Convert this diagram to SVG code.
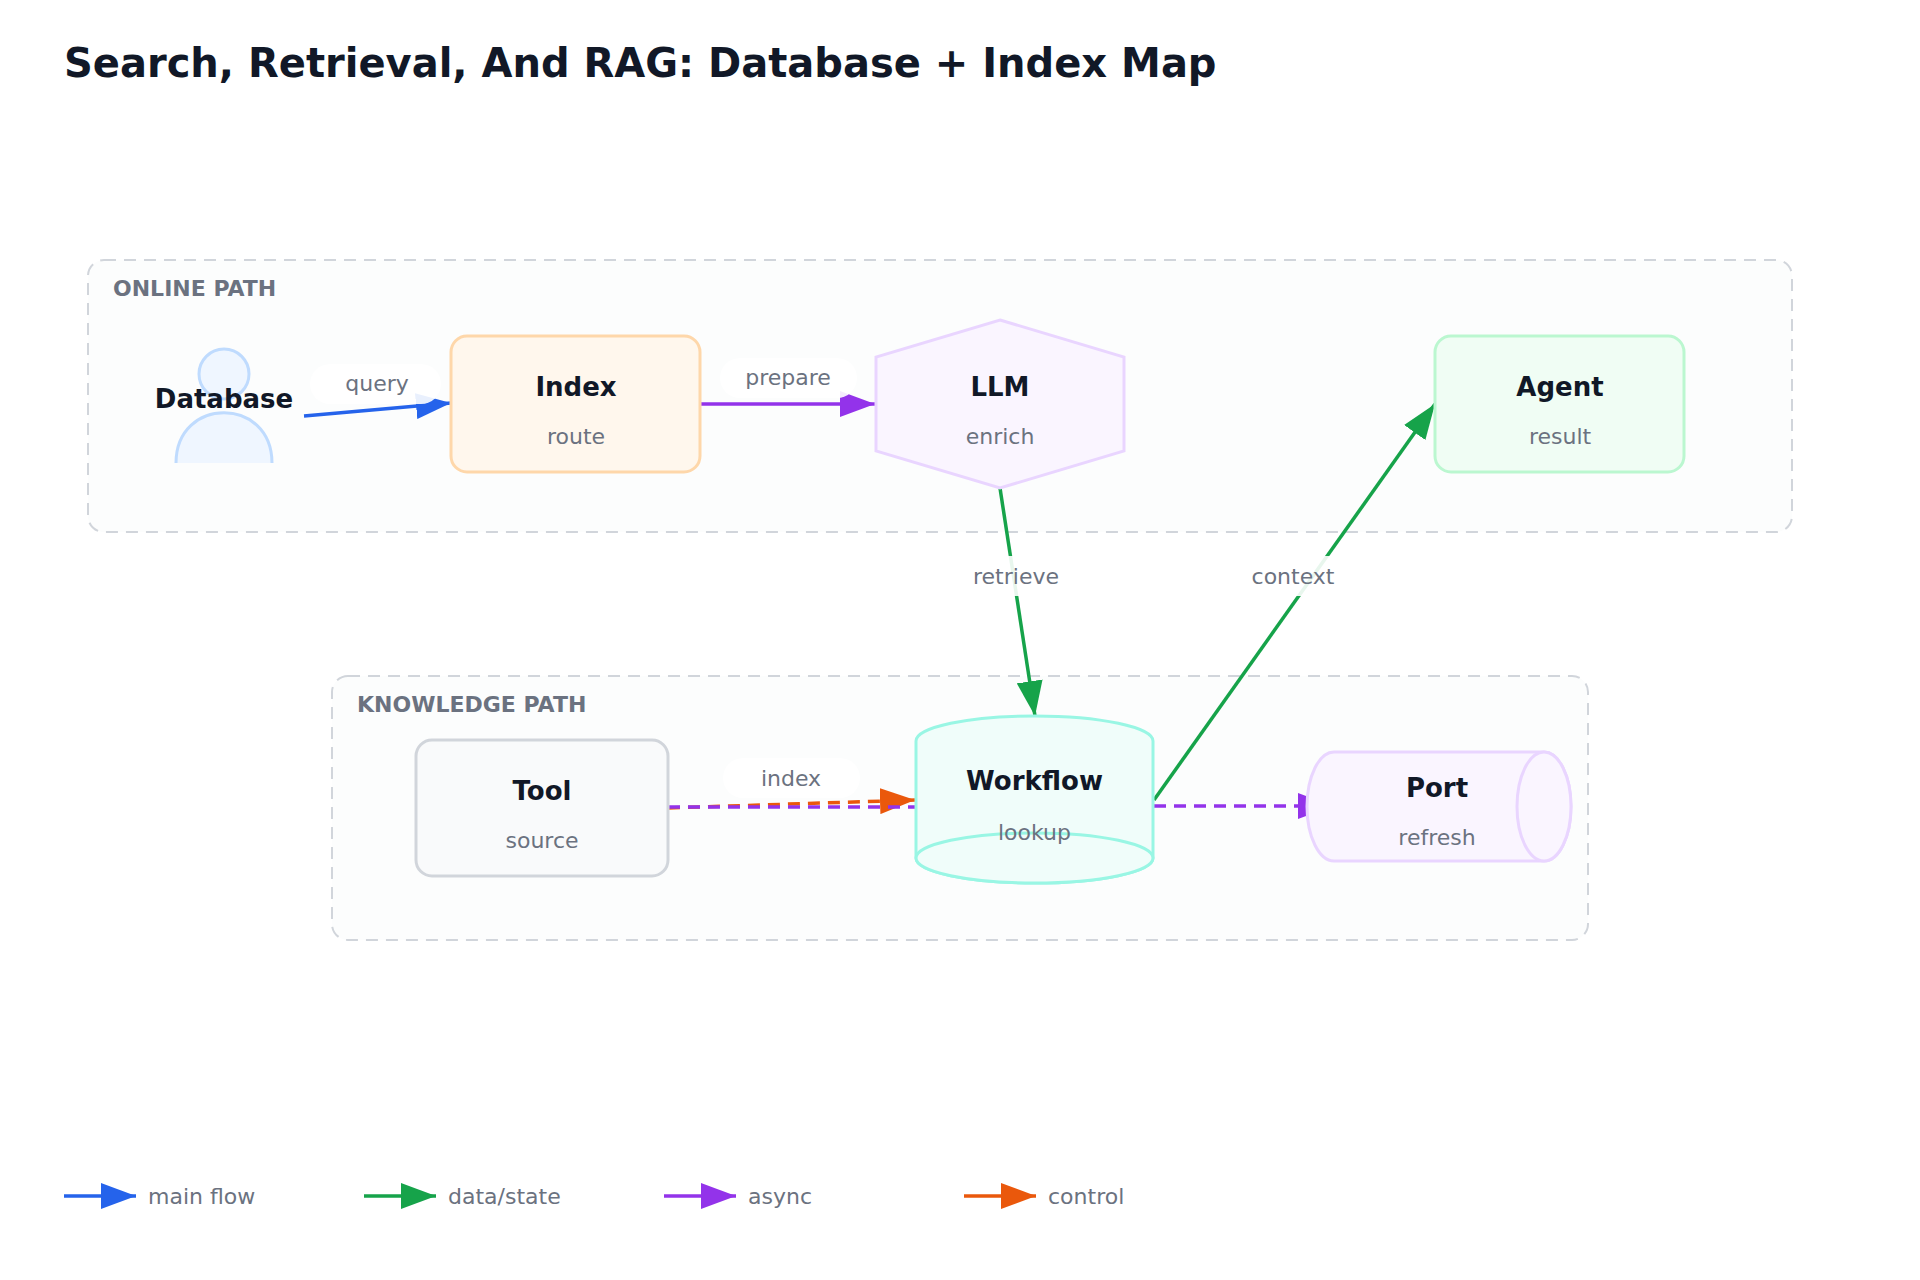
<svg xmlns="http://www.w3.org/2000/svg" width="1920" height="1280" viewBox="0 0 1920 1280">
<style>
text{font-family:"DejaVu Sans","Liberation Sans",sans-serif}
.title{font-size:40px;font-weight:bold;fill:#111827}
.sec{font-size:22px;font-weight:bold;fill:#6b7280}
.grp{fill:#fcfdfd;stroke:#d1d5db;stroke-width:2;stroke-dasharray:12 8}
.nt{font-size:26px;font-weight:bold;fill:#111827;text-anchor:middle}
.ns{font-size:22px;fill:#6b7280;text-anchor:middle}
.el{font-size:22px;fill:#6b7280;text-anchor:middle}
.pill{fill:#ffffff;fill-opacity:0.9}
.e{fill:none;stroke-width:3.5}
.dash{stroke-dasharray:12 8}
.lg{font-size:22px;fill:#6b7280}
</style>
<defs>
<marker id="mBlue" markerUnits="userSpaceOnUse" viewBox="0 0 35 26" markerWidth="35" markerHeight="26" refX="35" refY="13" orient="auto"><path d="M0,0 L35,13 L0,26 Z" fill="#2563eb"/></marker>
<marker id="mGreen" markerUnits="userSpaceOnUse" viewBox="0 0 35 26" markerWidth="35" markerHeight="26" refX="35" refY="13" orient="auto"><path d="M0,0 L35,13 L0,26 Z" fill="#16a34a"/></marker>
<marker id="mPurple" markerUnits="userSpaceOnUse" viewBox="0 0 35 26" markerWidth="35" markerHeight="26" refX="35" refY="13" orient="auto"><path d="M0,0 L35,13 L0,26 Z" fill="#9333ea"/></marker>
<marker id="mOrange" markerUnits="userSpaceOnUse" viewBox="0 0 35 26" markerWidth="35" markerHeight="26" refX="35" refY="13" orient="auto"><path d="M0,0 L35,13 L0,26 Z" fill="#ea580c"/></marker>
</defs>
<rect width="1920" height="1280" fill="#ffffff"/>
<text class="title" x="64" y="77">Search, Retrieval, And RAG: Database + Index Map</text>

<g id="group-online">
<rect class="grp" x="88" y="260" width="1704" height="272" rx="16"/>
<text class="sec" x="113" y="296">ONLINE PATH</text>
</g>
<g id="group-knowledge">
<rect class="grp" x="332" y="676" width="1256" height="264" rx="16"/>
<text class="sec" x="357" y="712">KNOWLEDGE PATH</text>
</g>

<g id="connectors">
<line class="e" x1="304" y1="416" x2="451" y2="403" stroke="#2563eb" marker-end="url(#mBlue)"/>
<line class="e" x1="700" y1="404" x2="875" y2="404" stroke="#9333ea" marker-end="url(#mPurple)"/>
<line class="e" x1="1000" y1="488" x2="1035" y2="716" stroke="#16a34a" marker-end="url(#mGreen)"/>
<line class="e" x1="1154" y1="800" x2="1435" y2="404" stroke="#16a34a" marker-end="url(#mGreen)"/>
<line class="e dash" x1="668" y1="808" x2="915" y2="800" stroke="#ea580c" marker-end="url(#mOrange)"/>
<line class="e dash" x1="668" y1="807" x2="956" y2="807" stroke="#9333ea" marker-end="url(#mPurple)"/>
<line class="e dash" x1="1154" y1="806" x2="1333" y2="806" stroke="#9333ea" marker-end="url(#mPurple)"/>
<rect class="pill" x="310" y="364" width="131" height="40" rx="20"/>
<text class="el" x="377" y="391">query</text>
<rect class="pill" x="720" y="358" width="137" height="40" rx="20"/>
<text class="el" x="788" y="385">prepare</text>
<rect class="pill" x="950" y="556" width="134" height="40" rx="20"/>
<text class="el" x="1016" y="584">retrieve</text>
<rect class="pill" x="1226" y="556" width="134" height="40" rx="20"/>
<text class="el" x="1293" y="584">context</text>
<rect class="pill" x="723" y="758" width="137" height="40" rx="20"/>
<text class="el" x="791" y="786">index</text>
</g>

<g id="node-database">
<circle cx="224" cy="374" r="25" fill="#eff6ff" stroke="#bfdbfe" stroke-width="3"/>
<path d="M176,463 C176,396 272,396 272,463" fill="#eff6ff" stroke="#bfdbfe" stroke-width="3"/>
<text class="nt" x="224" y="408">Database</text>
</g>
<g id="node-index">
<rect x="451" y="336" width="249" height="136" rx="16" fill="#fff7ed" stroke="#fed7aa" stroke-width="3"/>
<text class="nt" x="576" y="396">Index</text>
<text class="ns" x="576" y="444">route</text>
</g>
<g id="node-llm">
<polygon points="1000,320 1124,357 1124,451 1000,488 876,451 876,357" fill="#faf5ff" stroke="#e9d5ff" stroke-width="3"/>
<text class="nt" x="1000" y="396">LLM</text>
<text class="ns" x="1000" y="444">enrich</text>
</g>
<g id="node-agent">
<rect x="1435" y="336" width="249" height="136" rx="16" fill="#f0fdf4" stroke="#bbf7d0" stroke-width="3"/>
<text class="nt" x="1560" y="396">Agent</text>
<text class="ns" x="1560" y="444">result</text>
</g>
<g id="node-tool">
<rect x="416" y="740" width="252" height="136" rx="16" fill="#f9fafb" stroke="#d1d5db" stroke-width="3"/>
<text class="nt" x="542" y="800">Tool</text>
<text class="ns" x="542" y="848">source</text>
</g>
<g id="node-workflow">
<path d="M916,741 A118.5,25 0 0 1 1153,741 L1153,858 A118.5,25 0 0 1 916,858 Z" fill="#f0fdfa" stroke="#99f6e4" stroke-width="3"/>
<ellipse cx="1034.5" cy="858" rx="118.5" ry="25" fill="#f0fdfa" stroke="#99f6e4" stroke-width="3"/>
<text class="nt" x="1034.5" y="790">Workflow</text>
<text class="ns" x="1034.5" y="840">lookup</text>
</g>
<g id="node-port">
<path d="M1334,752 L1544,752 A27,54.5 0 0 1 1544,861 L1334,861 A27,54.5 0 0 1 1334,752 Z" fill="#faf5ff" stroke="#e9d5ff" stroke-width="3"/>
<ellipse cx="1544" cy="806.5" rx="27" ry="54.5" fill="#faf5ff" stroke="#e9d5ff" stroke-width="3"/>
<text class="nt" x="1437" y="797">Port</text>
<text class="ns" x="1437" y="845">refresh</text>
</g>

<g id="legend">
<line class="e" x1="64" y1="1196" x2="136" y2="1196" stroke="#2563eb" marker-end="url(#mBlue)"/>
<text class="lg" x="148" y="1204">main flow</text>
<line class="e" x1="364" y1="1196" x2="436" y2="1196" stroke="#16a34a" marker-end="url(#mGreen)"/>
<text class="lg" x="448" y="1204">data/state</text>
<line class="e" x1="664" y1="1196" x2="736" y2="1196" stroke="#9333ea" marker-end="url(#mPurple)"/>
<text class="lg" x="748" y="1204">async</text>
<line class="e" x1="964" y1="1196" x2="1036" y2="1196" stroke="#ea580c" marker-end="url(#mOrange)"/>
<text class="lg" x="1048" y="1204">control</text>
</g>
</svg>
